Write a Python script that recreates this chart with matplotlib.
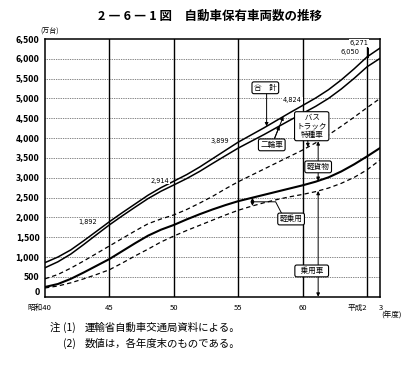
import matplotlib
matplotlib.use('Agg')
import matplotlib.pyplot as plt
import matplotlib.transforms as mtransforms
import numpy as np

plt.rcParams['font.family'] = ['Noto Sans CJK JP', 'DejaVu Sans']

# ---- data (万台), fiscal year end, 昭和40 .. 平成3 (=昭和66) ----
years = list(range(40, 67))
total_all = [860, 1000, 1180, 1410, 1650, 1892, 2120, 2340, 2560, 2750, 2914,
             3080, 3270, 3480, 3690, 3899, 4080, 4260, 4450, 4640, 4824,
             5010, 5220, 5470, 5750, 6050, 6271]
total_excl_2wheel = [730, 880, 1075, 1315, 1565, 1812, 2040, 2260, 2475, 2660, 2819,
                     2980, 3160, 3360, 3555, 3749, 3920, 4090, 4270, 4450, 4624,
                     4800, 5000, 5240, 5510, 5800, 6011]
cum_light_truck = [450, 560, 720, 900, 1090, 1280, 1470, 1660, 1840, 1960, 2063,
                   2200, 2360, 2530, 2720, 2900, 3060, 3220, 3380, 3540, 3700,
                   3880, 4080, 4300, 4530, 4770, 5000]
cum_light_car = [245, 320, 450, 610, 780, 950, 1150, 1350, 1540, 1690, 1810,
                 1950, 2080, 2200, 2310, 2410, 2490, 2570, 2650, 2730, 2810,
                 2900, 3010, 3160, 3340, 3540, 3750]
passenger_car = [220, 270, 350, 450, 560, 680, 850, 1030, 1200, 1380, 1530,
                 1670, 1800, 1930, 2060, 2180, 2280, 2370, 2450, 2520, 2580,
                 2650, 2740, 2860, 3010, 3200, 3450]

x_ticks = [40, 45, 50, 55, 60, 65, 66]
x_labels = ['昭和40', '45', '50', '55', '60', '平成2', '3']
y_ticks = list(range(0, 6501, 500))
value_labels = ['1,892', '2,914', '3,899', '4,824', '6,050', '6,271']

W, H = 415, 365
fig = plt.figure(figsize=(W / 100, H / 100), dpi=100)
L, R, T, B = 45, 380, 39, 296.7
ax = fig.add_axes([L / W, 1 - B / H, (R - L) / W, (B - T) / H])
ax.set_xlim(40, 66)
ax.set_ylim(0, 6500)

# grid
for v in y_ticks[1:-1]:
    ax.axhline(v, color='#333333', lw=0.55, ls=(0, (1, 1.3)), zorder=1)
for t in [45, 50, 55, 60, 65]:
    ax.axvline(t, color='k', lw=1.0, zorder=1)
for s in ax.spines.values():
    s.set_linewidth(1.1)

# lines
ax.plot(years, total_all, color='k', lw=1.1, zorder=3)
ax.plot(years, total_excl_2wheel, color='k', lw=1.1, zorder=3)
ax.plot(years, cum_light_truck, color='k', lw=0.9, ls=(0, (3.5, 2.5)), zorder=3)
ax.plot(years, cum_light_car, color='k', lw=1.5, zorder=3)
ax.plot(years, passenger_car, color='k', lw=0.9, ls=(0, (3.5, 2.5)), zorder=3)

# ticks
ax.set_yticks(y_ticks)
ax.set_yticklabels([f'{v:,}' for v in y_ticks], family='DejaVu Sans', fontsize=5.5,
                   fontweight='bold')
ax.tick_params(axis='y', length=0, pad=4)
ax.get_yticklabels()[0].set_va('bottom')
ax.set_xticks([])
tr = mtransforms.blended_transform_factory(ax.transData, ax.transAxes)
xoff = {'昭和40': (39.6, 'center'), '平成2': (65.0, 'right'), '3': (66.1, 'center')}
for t, lab in zip(x_ticks, x_labels):
    xx, ha = xoff.get(lab, (t, 'center'))
    ax.text(xx, -0.043, lab, transform=tr, ha=ha, va='center', fontsize=5.5)

def yv(t, arr):
    return float(np.interp(t, years, arr))

box = dict(boxstyle='round,pad=0.25', fc='white', ec='k', lw=0.8)
arr = dict(arrowstyle='-|>', lw=0.7, color='k', mutation_scale=5, shrinkA=0, shrinkB=0)
fs = 5.5

# value labels on total line
pos = [(43.3, 1892), (48.9, 2930), (53.6, 3920), (59.2, 4950), (63.7, 6180), (64.4, 6400)]
for (t, v), s in zip(pos, value_labels):
    ax.text(t, v, s, fontsize=4.8, family='DejaVu Sans', ha='center', va='center',
            bbox=dict(boxstyle='square,pad=0.1', fc='white', ec='none'), zorder=4)
ax.plot([65.05, 65.05], [6050, 6270], color='k', lw=0.7, zorder=4)

# 合計
ax.text(57.1, 5270, '合　計', fontsize=fs, ha='center', va='center', bbox=box, zorder=6)
ax.annotate('', xy=(57.2, yv(57.2, total_all)), xytext=(57.2, 5130), arrowprops=arr, zorder=5)

# 二輪車
ax.text(57.6, 3830, '二輪車', fontsize=fs, ha='center', va='center', bbox=box, zorder=6)
ax.annotate('', xy=(58.2, yv(58.2, total_excl_2wheel)), xytext=(57.8, 3980), arrowprops=arr, zorder=5)
ax.annotate('', xy=(58.5, yv(58.5, total_all)), xytext=(57.8, 3980), arrowprops=arr, zorder=5)

# バス・トラック・特種車
ax.text(60.7, 4300, ' バス\nトラック\n特種車', fontsize=fs, ha='center', va='center',
        linespacing=1.1, bbox=box, zorder=6)
ax.annotate('', xy=(60.4, yv(60.4, total_excl_2wheel)), xytext=(60.4, 4640), arrowprops=arr, zorder=5)
ax.annotate('', xy=(60.4, yv(60.4, cum_light_truck)), xytext=(60.4, 3960), arrowprops=arr, zorder=5)

# 軽貨物
ax.text(61.2, 3275, '軽貨物', fontsize=fs, ha='center', va='center', bbox=box, zorder=6)
ax.annotate('', xy=(61.2, yv(61.2, cum_light_truck)), xytext=(61.2, 3420), arrowprops=arr, zorder=5)
ax.annotate('', xy=(61.2, yv(61.2, cum_light_car)), xytext=(61.2, 3130), arrowprops=arr, zorder=5)

# 軽乗用
ax.text(59.1, 1960, '軽乗用', fontsize=fs, ha='center', va='center', bbox=box, zorder=6)
mid = (yv(56.1, cum_light_car) + yv(56.1, passenger_car)) / 2
ax.annotate('', xy=(56.1, yv(56.1, cum_light_car)), xytext=(56.1, mid), arrowprops=arr, zorder=5)
ax.annotate('', xy=(56.1, yv(56.1, passenger_car)), xytext=(56.1, mid), arrowprops=arr, zorder=5)
ax.plot([56.1, 57.9, 58.4], [mid, mid, 2080], color='k', lw=0.7, zorder=5)

# 乗用車
ax.text(60.7, 650, '  乗用車  ', fontsize=fs, ha='center', va='center', bbox=box, zorder=6)
ax.annotate('', xy=(61.2, yv(61.2, passenger_car)), xytext=(61.2, 650), arrowprops=arr, zorder=5)
ax.annotate('', xy=(61.2, 0), xytext=(61.2, 650), arrowprops=arr, zorder=5)

# texts
fig.text(210 / W, 1 - 16 / H, '2 ― 6 ― 1 図　自動車保有車両数の推移', fontsize=9,
         fontweight='bold', ha='center', va='center')
fig.text(50 / W, 1 - 32 / H, '(万台)', fontsize=5, ha='center', va='center')
fig.text(391 / W, 1 - 316 / H, '(年度)', fontsize=5.5, ha='center', va='center')
fig.text(50 / W, 1 - 328 / H, '注', fontsize=7.5, ha='left', va='center')
fig.text(63 / W, 1 - 328 / H, '(1)', fontsize=7.5, ha='left', va='center')
fig.text(85 / W, 1 - 328 / H, '運輸省自動車交通局資料による。', fontsize=7.5, ha='left', va='center')
fig.text(63 / W, 1 - 344 / H, '(2)', fontsize=7.5, ha='left', va='center')
fig.text(85 / W, 1 - 344 / H, '数値は，各年度末のものである。', fontsize=7.5, ha='left', va='center')

fig.savefig('out.png', dpi=100)
